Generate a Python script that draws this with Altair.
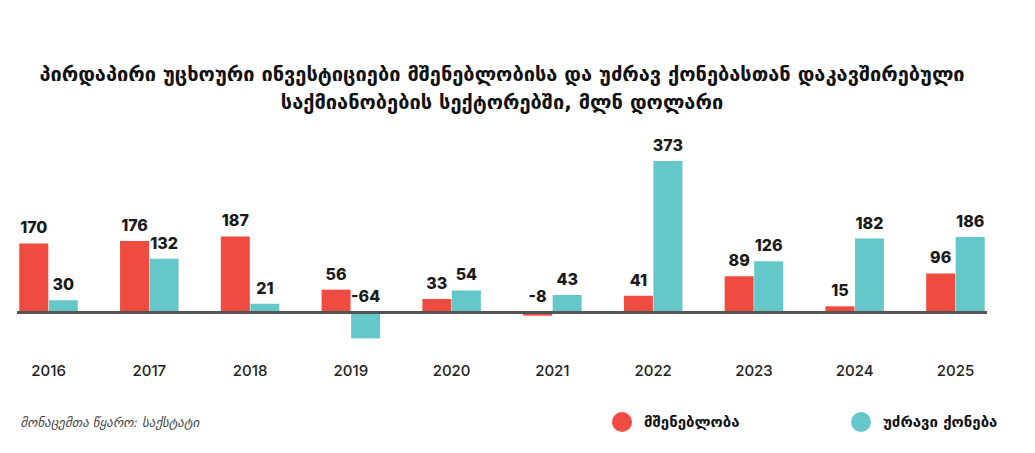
import altair as alt
import pandas as pd

years = ["2016", "2017", "2018", "2019", "2020", "2021", "2022", "2023", "2024", "2025"]
construction = [170, 176, 187, 56, 33, -8, 41, 89, 15, 96]
real_estate = [30, 132, 21, -64, 54, 43, 373, 126, 182, 186]
series_names = ["მშენებლობა", "უძრავი ქონება"]
colors = ["#EF4B40", "#66C7CA"]
title_lines = [
    "პირდაპირი უცხოური ინვესტიციები მშენებლობისა და უძრავ ქონებასთან დაკავშირებული",
    "საქმიანობების სექტორებში, მლნ დოლარი",
]
source_text = "მონაცემთა წყარო: საქსტატი"

rows = []
for i, y in enumerate(years):
    rows.append({"year": y, "series": series_names[0], "value": construction[i]})
    rows.append({"year": y, "series": series_names[1], "value": real_estate[i]})
df = pd.DataFrame(rows)

x_enc = alt.X(
    "year:N",
    sort=years,
    scale=alt.Scale(paddingInner=0.414, paddingOuter=0.02),
    axis=alt.Axis(
        title=source_text,
        titleFont="DejaVu Sans",
        titleFontStyle="italic",
        titleFontWeight="normal",
        titleFontSize=13,
        titleColor="#444444",
        titleAnchor="start",
        titleAlign="left",
        titleBaseline="alphabetic",
        titleX=3,
        titleY=73,
        labelAngle=0,
        labelFont="Inter",
        labelFontSize=15,
        labelFontWeight=500,
        labelColor="#222222",
        labelPadding=10,
        labelBaseline="top",
        domain=False,
        ticks=False,
        tickSize=0,
        grid=False,
    ),
)
xoff = alt.XOffset("series:N", sort=series_names)
y_scale = alt.Scale(domain=[-100, 400], nice=False, zero=True)

bars = alt.Chart(df).mark_bar(size=29).encode(
    x=x_enc,
    xOffset=xoff,
    y=alt.Y("value:Q", scale=y_scale, axis=None),
    color=alt.Color(
        "series:N",
        sort=series_names,
        scale=alt.Scale(domain=series_names, range=colors),
        legend=alt.Legend(
            title=None,
            orient="none",
            legendX=595,
            legendY=262,
            direction="horizontal",
            symbolType="circle",
            symbolSize=400,
            symbolStrokeWidth=0,
            symbolOpacity=1,
            labelFont="DejaVu Sans",
            labelFontWeight="bold",
            labelFontSize=15,
            labelColor="#111111",
            labelOffset=12,
            columnPadding=111,
            padding=0,
        ),
    ),
)

labels = alt.Chart(df).transform_calculate(
    ly="max(datum.value, 0)",
    lbl="'' + datum.value",
).mark_text(
    font="Inter", fontWeight=800, fontSize=16, color="#1a1a1a",
    baseline="alphabetic", dy=-10,
).encode(
    x=alt.X("year:N", sort=years),
    xOffset=xoff,
    y=alt.Y("ly:Q", scale=y_scale),
    text=alt.Text("lbl:N"),
)

zero = alt.Chart(df).mark_rule(color="#555555", strokeWidth=1.5).encode(
    y=alt.datum(0),
)

chart = alt.layer(bars, zero, labels).properties(
    width=970,
    height=203,
    background="white",
    padding={"left": 9, "top": 142, "right": 35, "bottom": 85},
    autosize=alt.AutoSizeParams(type="none"),
    title=alt.TitleParams(
        text=title_lines,
        anchor="middle",
        font="DejaVu Sans",
        fontWeight="bold",
        fontSize=20,
        color="#111111",
        lineHeight=28,
        offset=25,
    ),
).configure_view(stroke=None, strokeWidth=0)

chart.save("out.html", embed_options={"renderer": "svg", "actions": False})
